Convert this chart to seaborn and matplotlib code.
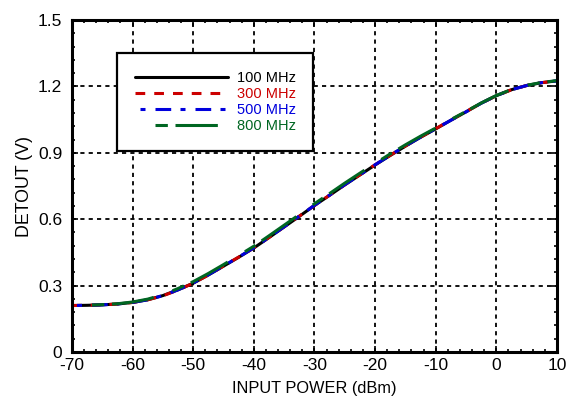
import seaborn as sns
import matplotlib.pyplot as plt
from matplotlib.ticker import MultipleLocator

# input power (dBm)
power = [-70, -67.5, -65, -62.5, -60, -57.5, -55, -52.5, -50, -47.5, -45, -42.5, -40, -37.5, -35,
         -32.5, -30, -27.5, -25, -22.5, -20, -17.5, -15, -12.5, -10, -7.5, -5, -2.5, 0, 2.5, 5, 7.5, 10]

# DETOUT (V) per frequency
det_100 = [0.210, 0.211, 0.213, 0.217, 0.224, 0.236, 0.255, 0.281, 0.311, 0.348, 0.388, 0.428, 0.470, 0.517, 0.565,
           0.613, 0.662, 0.708, 0.755, 0.800, 0.845, 0.888, 0.930, 0.970, 1.008, 1.047, 1.085, 1.124, 1.158, 1.185, 1.204, 1.217, 1.225]
det_300 = [0.210, 0.211, 0.213, 0.217, 0.224, 0.236, 0.254, 0.280, 0.311, 0.348, 0.389, 0.429, 0.471, 0.518, 0.566,
           0.614, 0.662, 0.709, 0.756, 0.801, 0.846, 0.889, 0.931, 0.971, 1.009, 1.048, 1.086, 1.124, 1.158, 1.185, 1.204, 1.217, 1.225]
det_500 = [0.210, 0.211, 0.213, 0.217, 0.224, 0.236, 0.255, 0.281, 0.312, 0.349, 0.389, 0.429, 0.471, 0.518, 0.566,
           0.614, 0.663, 0.709, 0.756, 0.801, 0.846, 0.889, 0.931, 0.971, 1.009, 1.047, 1.085, 1.124, 1.158, 1.185, 1.204, 1.217, 1.225]
det_800 = [0.210, 0.211, 0.214, 0.218, 0.226, 0.239, 0.259, 0.287, 0.318, 0.355, 0.395, 0.436, 0.478, 0.525, 0.573,
           0.621, 0.670, 0.716, 0.763, 0.808, 0.852, 0.895, 0.936, 0.975, 1.012, 1.050, 1.087, 1.125, 1.159, 1.186, 1.205, 1.218, 1.226]

labels = ['100 MHz', '300 MHz', '500 MHz', '800 MHz']
colors = ['black', '#cc0000', '#0000dd', '#006622']
styles = ['-', (0, (7, 6.5)), (25.2, (3.6, 7.2, 11.3, 6.7)), (44.9, (8.9, 5.5, 30.5, 14.4))]

sns.set_style('ticks')
plt.rcParams['font.family'] = ['Liberation Sans', 'DejaVu Sans']
plt.rcParams['lines.scale_dashes'] = False
plt.rcParams['text.color'] = 'black'
plt.rcParams['axes.labelcolor'] = 'black'

fig = plt.figure(figsize=(5.66, 4.04), dpi=100)
ax = fig.add_axes([0.1272, 0.1287, 0.8568, 0.8218])

for y, lab, col, ls in zip([det_100, det_300, det_500, det_800], labels, colors, styles):
    sns.lineplot(x=power, y=y, ax=ax, color=col, linestyle=ls, lw=2.2, label=lab)

ax.set_xlim(-70, 10)
ax.set_ylim(0, 1.5)
ax.set_xticks(range(-70, 11, 10))
ax.set_xticklabels([str(v) for v in range(-70, 11, 10)])
ax.set_yticks([0, 0.3, 0.6, 0.9, 1.2, 1.5])
ax.set_yticklabels(['0', '0.3', '0.6', '0.9', '1.2', '1.5'])
ax.xaxis.set_minor_locator(MultipleLocator(2))
ax.yaxis.set_minor_locator(MultipleLocator(0.06))

ax.tick_params(which='both', direction='in', top=True, right=True, width=1.2,
               labelsize=12.5, colors='black', labelcolor='black')
ax.tick_params(which='major', length=4)
ax.tick_params(which='minor', length=2.5)
ax.tick_params(axis='y', pad=7)
ax.tick_params(axis='x', pad=4)

for s in ax.spines.values():
    s.set_linewidth(2.2)
    s.set_color('black')

ax.grid(True, which='major', color='black', linestyle=(0, (3, 3)), lw=1.3)

ax.set_xlabel('INPUT POWER (dBm)', fontsize=11.8, labelpad=6)
ax.set_ylabel('DETOUT (V)', fontsize=12.8, labelpad=3.5)

leg = ax.legend(loc='upper left', bbox_to_anchor=(0.093, 0.90), fontsize=10.5,
                handlelength=6.4, handletextpad=0.6, labelspacing=0.15,
                borderpad=1.2, borderaxespad=0, fancybox=False, framealpha=1)
leg.get_frame().set_edgecolor('black')
leg.get_frame().set_linewidth(1.6)
for txt, col in zip(leg.get_texts(), colors):
    txt.set_color(col)

plt.savefig('out.png', dpi=100)
